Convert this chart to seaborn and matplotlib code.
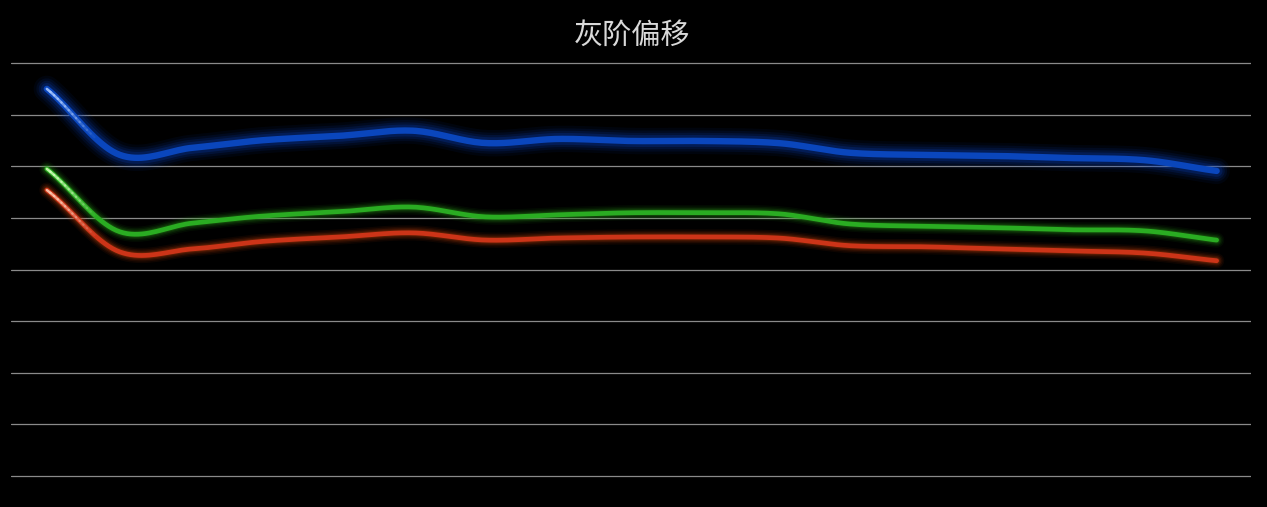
import matplotlib

matplotlib.use("Agg")
import matplotlib.pyplot as plt  # visualization
import numpy as np
import pandas as pd
import seaborn as sns
from matplotlib.collections import LineCollection

# DATA (one gridline = 10)

points = list(range(17))
blue_vals = [75.0, 62.2, 63.6, 65.1, 65.9, 66.9, 64.5, 65.3, 64.9,
             64.9, 64.5, 62.6, 62.2, 62.0, 61.6, 61.2, 59.1]
green_vals = [59.5, 47.3, 49.0, 50.4, 51.2, 52.1, 50.2, 50.6, 51.0,
              51.0, 50.8, 48.8, 48.4, 48.1, 47.7, 47.5, 45.7]
red_vals = [55.4, 43.4, 44.0, 45.5, 46.3, 47.1, 45.7, 46.1, 46.3,
            46.3, 46.1, 44.6, 44.4, 44.0, 43.6, 43.2, 41.7]
title = "灰阶偏移"

# name, values, core colour, glow colour, tip colour, core width, glow width
series = [
    ("blue", blue_vals, "#0a46bc", "#0a42c0", "#a8c8ff", 4.6, 19),
    ("green", green_vals, "#2aac22", "#2a9a18", "#d0ffb8", 3.4, 11),
    ("red", red_vals, "#cc3418", "#c8400c", "#ffc8b0", 3.4, 11),
]


def smooth(x, y, k=0.45, n=20):
    # curved path through the points (drawing style only)
    x = np.asarray(x, float)
    y = np.asarray(y, float)
    m = np.gradient(y) * 2 * k
    xs, ys = [], []
    for i in range(len(x) - 1):
        t = np.linspace(0, 1, n, endpoint=False)
        h00 = 2 * t**3 - 3 * t**2 + 1
        h10 = t**3 - 2 * t**2 + t
        h01 = -2 * t**3 + 3 * t**2
        h11 = t**3 - t**2
        xs.extend(x[i] + t * (x[i + 1] - x[i]))
        ys.extend(h00 * y[i] + h10 * m[i] + h01 * y[i + 1] + h11 * m[i + 1])
    xs.append(x[-1])
    ys.append(y[-1])
    return np.array(xs), np.array(ys)


sns.set_theme(style="darkgrid", rc={
    "axes.facecolor": "black",
    "figure.facecolor": "black",
    "grid.color": "#8a8a8a",
    "grid.linewidth": 0.9,
})
plt.rcParams["font.family"] = ["Noto Sans CJK SC", "DejaVu Sans"]

fig = plt.figure(figsize=(12.67, 5.07), dpi=100)
ax = fig.add_axes([11 / 1267, 29 / 507, 1240 / 1267, 417 / 507])

for name, vals, color, glow_c, light, core_w, glow in series:
    sx, sy = smooth(points, vals)
    df = pd.DataFrame({"x": sx, "y": sy})
    # glow
    for w, a in [(glow, 0.07), (glow * 0.8, 0.10), (glow * 0.62, 0.15),
                 (glow * 0.45, 0.22)]:
        sns.lineplot(data=df, x="x", y="y", ax=ax, color=glow_c, lw=w,
                     alpha=a, sort=False, solid_capstyle="round")
    sns.lineplot(data=df, x="x", y="y", ax=ax, color=color, lw=core_w,
                 sort=False, solid_capstyle="round")
    # light tip at the start of each line
    seg_n = 14
    pts = np.column_stack([sx[: seg_n + 1], sy[: seg_n + 1]])
    segs = [pts[i:i + 2] for i in range(seg_n)]
    alphas = np.linspace(0.9, 0.0, seg_n)
    cols = [matplotlib.colors.to_rgba(light, a) for a in alphas]
    ax.add_collection(LineCollection(segs, colors=cols, linewidths=1.8,
                                     capstyle="round"))

ax.set_xlim(-0.49, 16.47)
ax.set_ylim(-0.4, 80.4)
ax.set_yticks(np.arange(0, 81, 10))
ax.set_xticks([])
ax.tick_params(left=False, bottom=False, labelleft=False, labelbottom=False)
ax.grid(axis="x", visible=False)
ax.set_xlabel("")
ax.set_ylabel("")
for s in ax.spines.values():
    s.set_visible(False)

fig.text(632 / 1267, 1 - 36 / 507, title, ha="center", va="center",
         fontsize=21, color="#d9d9d9")

plt.savefig("out.png", dpi=100, facecolor="black")
